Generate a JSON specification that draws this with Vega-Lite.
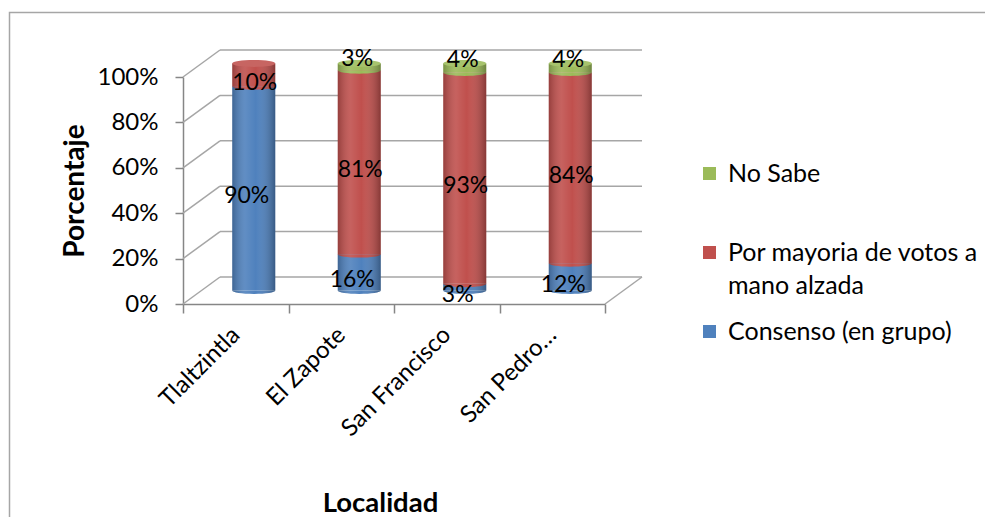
{
  "$schema": "https://vega.github.io/schema/vega-lite/v6.json",
  "width": 422,
  "height": 227,
  "autosize": {"type": "none"},
  "padding": {"left": 183, "top": 77, "right": 380, "bottom": 213},
  "background": "white",
  "config": {
    "view": {"stroke": null},
    "font": "Lato",
    "style": {"guide-label": {"lineHeight": 33}}
  },
  "datasets": {
    "votos": [
      {"localidad": "Tlaltzintla", "serie": "Consenso (en grupo)", "valor": 0.90},
      {"localidad": "Tlaltzintla", "serie": "Por mayoria de votos a mano alzada", "valor": 0.10},
      {"localidad": "El Zapote", "serie": "Consenso (en grupo)", "valor": 0.16},
      {"localidad": "El Zapote", "serie": "Por mayoria de votos a mano alzada", "valor": 0.81},
      {"localidad": "El Zapote", "serie": "No Sabe", "valor": 0.03},
      {"localidad": "San Francisco", "serie": "Consenso (en grupo)", "valor": 0.03},
      {"localidad": "San Francisco", "serie": "Por mayoria de votos a mano alzada", "valor": 0.93},
      {"localidad": "San Francisco", "serie": "No Sabe", "valor": 0.04},
      {"localidad": "San Pedro…", "serie": "Consenso (en grupo)", "valor": 0.12},
      {"localidad": "San Pedro…", "serie": "Por mayoria de votos a mano alzada", "valor": 0.84},
      {"localidad": "San Pedro…", "serie": "No Sabe", "valor": 0.04}
    ],
    "escala": [
      {"nivel": 0}, {"nivel": 0.2}, {"nivel": 0.4}, {"nivel": 0.6}, {"nivel": 0.8}, {"nivel": 1}
    ]
  },
  "layer": [
    {
      "description": "Chart-area frame",
      "data": {"values": [{}]},
      "mark": {"type": "rect", "fill": null, "stroke": "#A6A6A6", "strokeWidth": 1.5},
      "encoding": {
        "x": {"value": -173.5},
        "x2": {"value": 830},
        "y": {"value": -64.5},
        "y2": {"value": 460}
      }
    },
    {
      "description": "Back wall gridlines",
      "data": {"name": "escala"},
      "mark": {"type": "rule", "color": "#A6A6A6", "strokeWidth": 1.5, "xOffset": 37, "x2Offset": 37, "yOffset": -27, "y2Offset": -27},
      "encoding": {
        "x": {"value": 0},
        "x2": {"value": "width"},
        "y": {"field": "nivel", "type": "quantitative", "scale": {"domain": [0, 1], "nice": false}},
        "y2": {"field": "nivel"}
      }
    },
    {
      "description": "Side wall gridlines",
      "data": {"name": "escala"},
      "mark": {"type": "rule", "color": "#A6A6A6", "strokeWidth": 1.5, "x2Offset": 37, "y2Offset": -27},
      "encoding": {
        "x": {"value": 0},
        "x2": {"value": 0},
        "y": {"field": "nivel", "type": "quantitative"},
        "y2": {"field": "nivel"}
      }
    },
    {
      "description": "Right edge of the floor",
      "data": {"name": "escala"},
      "transform": [{"filter": "datum.nivel == 0"}],
      "mark": {"type": "rule", "color": "#A6A6A6", "strokeWidth": 1.5, "x2Offset": 37, "y2Offset": -27},
      "encoding": {
        "x": {"value": "width"},
        "x2": {"value": "width"},
        "y": {"field": "nivel", "type": "quantitative"},
        "y2": {"field": "nivel"}
      }
    },
    {
      "data": {"name": "votos"},
      "transform": [
        {"calculate": "indexof(['Consenso (en grupo)', 'Por mayoria de votos a mano alzada', 'No Sabe'], datum.serie)", "as": "orden"},
        {"stack": "valor", "groupby": ["localidad"], "sort": [{"field": "orden", "order": "ascending"}], "as": ["y0", "y1"]},
        {"calculate": "(datum.y0 + datum.y1) / 2", "as": "medio"}
      ],
      "encoding": {
        "x": {
          "field": "localidad",
          "type": "nominal",
          "sort": ["Tlaltzintla", "El Zapote", "San Francisco", "San Pedro…"],
          "scale": {"paddingInner": 0, "paddingOuter": 0},
          "axis": {
            "title": "Localidad",
            "titleFontSize": 27.5,
            "titleFontWeight": "bold",
            "titleColor": "black",
            "titleX": 197,
            "titleY": 199,
            "titleAlign": "center",
            "titleBaseline": "middle",
            "labelAngle": -45,
            "labelAlign": "right",
            "labelBaseline": "middle",
            "labelFontSize": 24,
            "labelColor": "black",
            "labelPadding": 18,
            "labelLimit": 300,
            "tickBand": "extent",
            "tickSize": 9,
            "tickColor": "#868686",
            "tickWidth": 1.5,
            "domainColor": "#868686",
            "domainWidth": 1.5,
            "grid": false
          }
        }
      },
      "layer": [
        {
          "mark": {"type": "bar", "width": 43, "xOffset": 18, "yOffset": -13.5, "y2Offset": -13.5, "strokeWidth": 0},
          "encoding": {
            "y": {
              "field": "y0",
              "type": "quantitative",
              "axis": {
                "values": [0, 0.2, 0.4, 0.6, 0.8, 1],
                "format": ".0%",
                "title": "Porcentaje",
                "titleFontSize": 28,
                "titleFontWeight": "bold",
                "titleColor": "black",
                "titleAngle": -90,
                "titleX": -108,
                "titleY": 113.5,
                "titleAlign": "center",
                "titleBaseline": "middle",
                "labelFontSize": 24,
                "labelColor": "black",
                "labelPadding": 17,
                "tickSize": 8,
                "tickColor": "#868686",
                "tickWidth": 1.5,
                "domainColor": "#868686",
                "domainWidth": 1.5,
                "grid": false
              }
            },
            "y2": {"field": "y1"},
            "color": {
              "field": "serie",
              "type": "nominal",
              "scale": {
                "domain": ["No Sabe", "Por mayoria de votos a mano alzada", "Consenso (en grupo)"],
                "range": ["#9BBB59", "#C0504D", "#4F81BD"]
              },
              "legend": {
                "title": null,
                "orient": "none",
                "legendX": 514,
                "legendY": 84,
                "padding": 0,
                "symbolType": "square",
                "symbolSize": 169,
                "symbolStrokeWidth": 0,
                "symbolOpacity": 1,
                "labelFontSize": 25,
                "labelColor": "black",
                "labelOffset": 6,
                "labelLimit": 400,
                "rowPadding": 20,
                "labelExpr": "datum.label == 'Por mayoria de votos a mano alzada' ? ['Por mayoria de votos a', 'mano alzada'] : (datum.label == 'No Sabe' ? ['No Sabe', ''] : datum.label)"
              }
            }
          }
        },
        {
          "description": "Curved lower edge of every segment",
          "mark": {"type": "point", "shape": "M-1,0A1,0.16,0,0,0,1,0Z", "size": 1849, "filled": true, "opacity": 1, "strokeWidth": 0, "xOffset": 18, "yOffset": -13.5},
          "encoding": {
            "y": {"field": "y0", "type": "quantitative"},
            "color": {"field": "serie", "type": "nominal"},
            "order": {"field": "orden"}
          }
        },
        {
          "description": "Cylinder shading over the body",
          "transform": [{"filter": "datum.y1 > 0.99"}],
          "mark": {
            "type": "bar", "width": 43, "xOffset": 18, "yOffset": -13.5, "y2Offset": -13.5, "strokeWidth": 0,
            "fill": {"gradient": "linear", "x1": 0, "y1": 0, "x2": 1, "y2": 0, "stops": [
              {"offset": 0, "color": "rgba(0,0,0,0.22)"},
              {"offset": 0.3, "color": "rgba(255,255,255,0.10)"},
              {"offset": 0.55, "color": "rgba(255,255,255,0)"},
              {"offset": 1, "color": "rgba(0,0,0,0.30)"}
            ]}
          },
          "encoding": {
            "y": {"field": "y1", "type": "quantitative"},
            "y2": {"datum": 0}
          }
        },
        {
          "description": "Cylinder shading over the base",
          "transform": [{"filter": "datum.y1 > 0.99"}],
          "mark": {
            "type": "point", "shape": "M-1,0A1,0.16,0,0,0,1,0Z", "size": 1849, "filled": true, "opacity": 1, "strokeWidth": 0, "xOffset": 18, "yOffset": -13.5,
            "fill": {"gradient": "linear", "x1": 0, "y1": 0, "x2": 1, "y2": 0, "stops": [
              {"offset": 0, "color": "rgba(0,0,0,0.22)"},
              {"offset": 0.3, "color": "rgba(255,255,255,0.10)"},
              {"offset": 0.55, "color": "rgba(255,255,255,0)"},
              {"offset": 1, "color": "rgba(0,0,0,0.30)"}
            ]}
          },
          "encoding": {
            "y": {"datum": 0, "type": "quantitative"}
          }
        },
        {
          "description": "Top cap",
          "transform": [{"filter": "datum.y1 > 0.99"}],
          "mark": {"type": "point", "shape": "M-1,0A1,0.16,0,1,0,1,0A1,0.16,0,1,0,-1,0Z", "size": 1849, "filled": true, "opacity": 1, "strokeWidth": 0, "xOffset": 18, "yOffset": -13.5},
          "encoding": {
            "y": {"field": "y1", "type": "quantitative"},
            "color": {"field": "serie", "type": "nominal"}
          }
        },
        {
          "description": "Top cap highlight",
          "transform": [{"filter": "datum.y1 > 0.99"}],
          "mark": {"type": "point", "shape": "M-1,0A1,0.16,0,1,0,1,0A1,0.16,0,1,0,-1,0Z", "size": 1849, "filled": true, "fill": "white", "opacity": 0.12, "strokeWidth": 0, "xOffset": 18, "yOffset": -13.5},
          "encoding": {
            "y": {"field": "y1", "type": "quantitative"}
          }
        },
        {
          "transform": [{"filter": "datum.serie == 'Consenso (en grupo)'"}],
          "mark": {"type": "text", "fontSize": 23, "color": "black", "xOffset": 11, "yOffset": -5.5},
          "encoding": {
            "y": {"field": "medio", "type": "quantitative"},
            "text": {"field": "valor", "type": "quantitative", "format": ".0%"}
          }
        },
        {
          "transform": [{"filter": "datum.serie == 'Por mayoria de votos a mano alzada'"}],
          "mark": {"type": "text", "fontSize": 23, "color": "black", "xOffset": 19, "yOffset": -5.5},
          "encoding": {
            "y": {"field": "medio", "type": "quantitative"},
            "text": {"field": "valor", "type": "quantitative", "format": ".0%"}
          }
        },
        {
          "transform": [{"filter": "datum.serie == 'No Sabe'"}],
          "mark": {"type": "text", "fontSize": 23, "color": "black", "xOffset": 16, "yOffset": -21.5},
          "encoding": {
            "y": {"field": "medio", "type": "quantitative"},
            "text": {"field": "valor", "type": "quantitative", "format": ".0%"}
          }
        }
      ]
    }
  ]
}
